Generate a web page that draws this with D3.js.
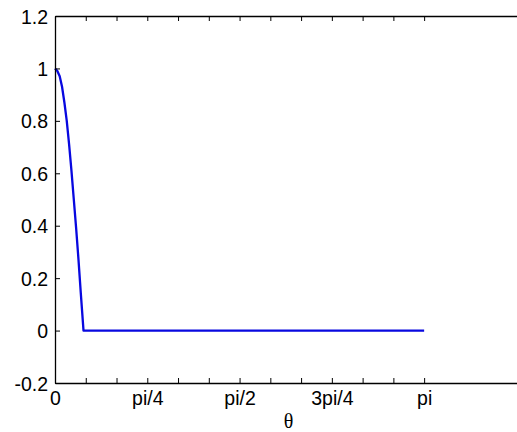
<!DOCTYPE html>
<html><head><meta charset="utf-8">
<script src="https://cdn.jsdelivr.net/npm/d3@7"></script>
<style>body{margin:0;background:#fff;overflow:hidden}svg{display:block}</style>
</head><body>
<svg id="c" width="517" height="432"></svg>
<script>
const theta = [0, 0.02, 0.04, 0.06, 0.08, 0.10, 0.12, 0.14, 0.16, 0.18, 0.20, 0.22, 0.2426, Math.PI];
const values = [1, 0.99, 0.97, 0.93, 0.87, 0.80, 0.71, 0.61, 0.50, 0.39, 0.27, 0.14, 0, 0];
const xTickLabels = ["0", "", "", "pi/4", "", "", "pi/2", "", "", "3pi/4", "", "", "pi"];
const yTicks = [-0.2, 0, 0.2, 0.4, 0.6, 0.8, 1, 1.2];
const yTickLabels = ["-0.2", "0", "0.2", "0.4", "0.6", "0.8", "1", "1.2"];
const xLabel = "θ";

const svg = d3.select("#c");
const L = 55, R = 525, T = 16, B = 383;
const x = d3.scaleLinear().domain([0, 4]).range([L, R]);
const y = d3.scaleLinear().domain([-0.2, 1.2]).range([B, T]);
const xTicks = xTickLabels.map((d, i) => i * Math.PI / 12);

const font = "Liberation Sans, Arial, sans-serif";

// line
const line = d3.line().x((d, i) => x(theta[i])).y(d => y(d));
svg.append("path").datum(values).attr("d", line)
  .attr("fill", "none").attr("stroke", "#0808e0").attr("stroke-width", 2.3)
  .attr("stroke-linejoin", "round");

// bottom axis
const xb = svg.append("g").attr("transform", `translate(0,${B})`)
  .call(d3.axisBottom(x).tickValues(xTicks).tickSize(-5).tickSizeOuter(0)
    .tickFormat((d, i) => xTickLabels[i]));
xb.selectAll("text").attr("y", 8).attr("dy", "0.71em");
// top axis
svg.append("g").attr("transform", `translate(0,${T})`)
  .call(d3.axisTop(x).tickValues(xTicks).tickSize(-5).tickSizeOuter(0).tickFormat(""));
// left axis
const yl = svg.append("g").attr("transform", `translate(${L},0)`)
  .call(d3.axisLeft(y).tickValues(yTicks).tickSize(-5).tickSizeOuter(0)
    .tickFormat((d, i) => yTickLabels[i]));
yl.selectAll("text").attr("x", -7).attr("dy", "0.36em");

svg.selectAll(".domain").attr("stroke", "#000").attr("stroke-width", 1.3);
svg.selectAll(".tick line").attr("stroke", "#000").attr("stroke-width", 1);
svg.selectAll(".tick text").attr("font-family", font).attr("font-size", 19.5).attr("fill", "#000");

svg.append("text").attr("x", 288.5).attr("y", 428).attr("text-anchor", "middle")
  .attr("font-family", "Liberation Serif, Times New Roman, serif").attr("font-size", 20)
  .text(xLabel);
</script>
</body></html>
